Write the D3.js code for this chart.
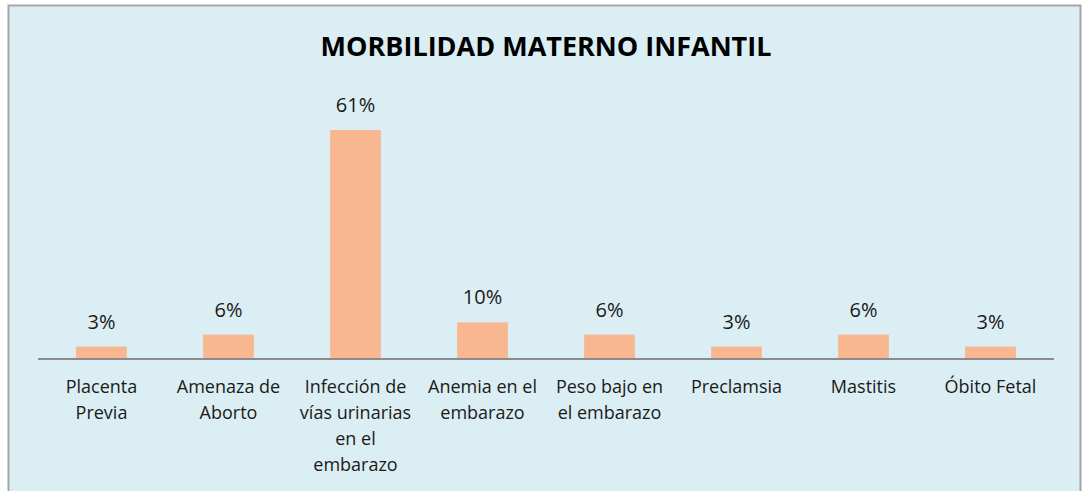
<!DOCTYPE html>
<html><head><meta charset="utf-8">
<script src="https://cdn.jsdelivr.net/npm/d3@7"></script>
<style>body{margin:0;background:#fff}svg{display:block}</style>
</head><body>
<script>
const title = "MORBILIDAD MATERNO INFANTIL";
const categories = [
  ["Placenta","Previa"],
  ["Amenaza de","Aborto"],
  ["Infección de","vías urinarias","en el","embarazo"],
  ["Anemia en el","embarazo"],
  ["Peso bajo en","el embarazo"],
  ["Preclamsia"],
  ["Mastitis"],
  ["Óbito Fetal"]
];
// percentages (shown rounded on the chart)
const values = [3.2, 6.4, 61.3, 9.7, 6.4, 3.2, 6.4, 3.2];

const W = 1083, H = 491;
const font = "'Open Sans', sans-serif";
const fmt = d => d3.format(".0f")(d) + "%";
const svg = d3.select("body").append("svg").attr("width", W).attr("height", H);

svg.append("rect").attr("x", 8.5).attr("y", 5.5).attr("width", 1072).attr("height", 500)
  .attr("fill", "#DBEEF3").attr("stroke", "#A6A6A6").attr("stroke-width", 2);

const x = d3.scaleBand().domain(d3.range(categories.length)).range([38, 1054]).paddingInner(0.6).paddingOuter(0.3);
const y = d3.scaleLinear().domain([0, 61.3]).range([358.5, 130]);

svg.selectAll("rect.bar").data(values).join("rect").attr("class", "bar")
  .attr("x", (d, i) => x(i)).attr("width", x.bandwidth())
  .attr("y", d => y(d)).attr("height", d => y(0) - y(d))
  .attr("fill", "#F9B791");

svg.append("line").attr("x1", 38).attr("x2", 1054).attr("y1", 359).attr("y2", 359)
  .attr("stroke", "#8C8C8C").attr("stroke-width", 2);

svg.selectAll("text.val").data(values).join("text").attr("class", "val")
  .attr("x", (d, i) => x(i) + x.bandwidth() / 2).attr("y", d => y(d) - 18)
  .attr("text-anchor", "middle").attr("font-family", font).attr("font-size", 20).attr("fill", "#1a1a1a")
  .text(fmt);

const lab = svg.selectAll("text.cat").data(categories).join("text").attr("class", "cat")
  .attr("text-anchor", "middle").attr("font-family", font).attr("font-size", 18).attr("fill", "#1a1a1a");
lab.each(function(lines, i) {
  d3.select(this).selectAll("tspan").data(lines).join("tspan")
    .attr("x", x(i) + x.bandwidth() / 2).attr("y", (l, j) => 393 + j * 26).text(l => l);
});

svg.append("text").attr("x", 546).attr("y", 55.5).attr("text-anchor", "middle")
  .attr("font-family", font).attr("font-weight", "bold").attr("font-size", 27).attr("fill", "#000")
  .text(title);
</script>
</body></html>
